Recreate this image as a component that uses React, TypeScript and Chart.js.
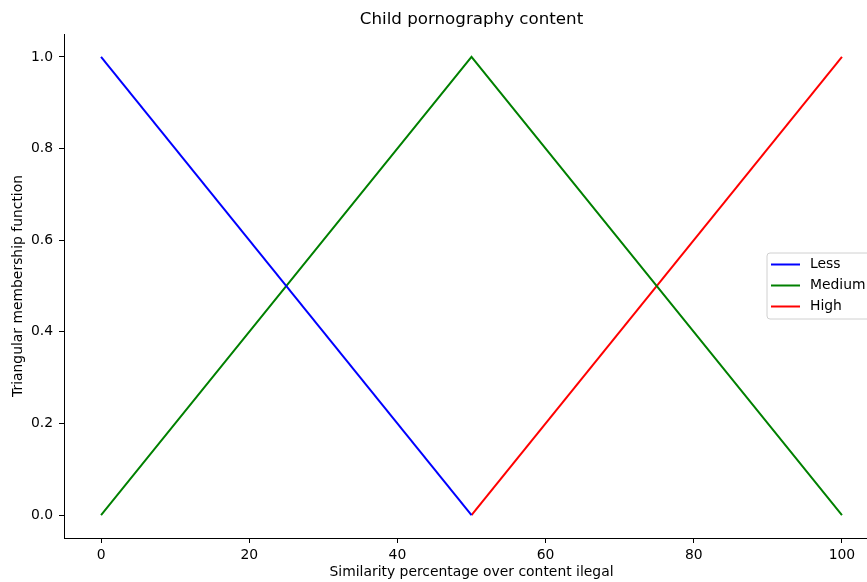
import React, { useEffect, useRef } from "react";
import { Chart, registerables } from "chart.js";

Chart.register(...registerables);

const TITLE = "Child pornography content";
const X_LABEL = "Similarity percentage over content ilegal";
const Y_LABEL = "Triangular membership function";

const LESS_X = [0, 50];
const LESS_Y = [1, 0];
const MEDIUM_X = [0, 50, 100];
const MEDIUM_Y = [0, 1, 0];
const HIGH_X = [50, 100];
const HIGH_Y = [0, 1];

const X_TICKS = [0, 20, 40, 60, 80, 100];
const Y_TICKS = [0, 0.2, 0.4, 0.6, 0.8, 1.0];

const FONT = "'DejaVu Sans', sans-serif";
const FS = 13.9;

const toPoints = (xs: number[], ys: number[]) => xs.map((x, i) => ({ x, y: ys[i] }));

const titlePlugin = {
  id: "mplTitle",
  afterDraw(chart: any) {
    const ctx = chart.ctx;
    const a = chart.chartArea;
    ctx.save();
    ctx.font = `16.7px ${FONT}`;
    ctx.fillStyle = "#000";
    ctx.textAlign = "center";
    ctx.textBaseline = "middle";
    ctx.fillText(TITLE, (a.left + a.right) / 2, 20);
    ctx.restore();
  },
};

const legendPlugin = {
  id: "mplLegend",
  afterDraw(chart: any) {
    const ctx = chart.ctx;
    const datasets = chart.data.datasets;
    const x0 = 767;
    const y0 = 253;
    const w = 112;
    const rowH = 21;
    const h = 66;
    ctx.save();
    ctx.beginPath();
    const r = 3;
    ctx.moveTo(x0 + r, y0);
    ctx.lineTo(x0 + w - r, y0);
    ctx.arcTo(x0 + w, y0, x0 + w, y0 + r, r);
    ctx.lineTo(x0 + w, y0 + h - r);
    ctx.arcTo(x0 + w, y0 + h, x0 + w - r, y0 + h, r);
    ctx.lineTo(x0 + r, y0 + h);
    ctx.arcTo(x0, y0 + h, x0, y0 + h - r, r);
    ctx.lineTo(x0, y0 + r);
    ctx.arcTo(x0, y0, x0 + r, y0, r);
    ctx.closePath();
    ctx.fillStyle = "rgba(255,255,255,0.8)";
    ctx.fill();
    ctx.strokeStyle = "#d0d0d0";
    ctx.lineWidth = 1;
    ctx.stroke();
    ctx.font = `${FS}px ${FONT}`;
    ctx.textBaseline = "middle";
    ctx.textAlign = "left";
    datasets.forEach((ds: any, i: number) => {
      const cy = y0 + 11.5 + i * rowH;
      ctx.beginPath();
      ctx.moveTo(x0 + 4, cy);
      ctx.lineTo(x0 + 33, cy);
      ctx.strokeStyle = ds.borderColor;
      ctx.lineWidth = 2;
      ctx.stroke();
      ctx.fillStyle = "#000";
      ctx.fillText(ds.label, x0 + 43, cy);
    });
    ctx.restore();
  },
};

export default function App() {
  const ref = useRef<HTMLCanvasElement | null>(null);
  useEffect(() => {
    if (!ref.current) return;
    const chart = new Chart(ref.current, {
      type: "line",
      data: {
        datasets: [
          { label: "Less", data: toPoints(LESS_X, LESS_Y), borderColor: "#0000ff", borderWidth: 2, pointRadius: 0, fill: false, tension: 0 },
          { label: "Medium", data: toPoints(MEDIUM_X, MEDIUM_Y), borderColor: "#008000", borderWidth: 2, pointRadius: 0, fill: false, tension: 0 },
          { label: "High", data: toPoints(HIGH_X, HIGH_Y), borderColor: "#ff0000", borderWidth: 2, pointRadius: 0, fill: false, tension: 0 },
        ],
      },
      options: {
        responsive: false,
        animation: false,
        layout: { padding: { top: 34, right: 21, bottom: 0, left: 0 } },
        plugins: {
          legend: { display: false },
          tooltip: { enabled: false },
          title: { display: false },
        },
        scales: {
          x: {
            type: "linear",
            min: -5,
            max: 105,
            afterFit: (s: any) => { s.height = 44; },
            afterBuildTicks: (s: any) => { s.ticks = X_TICKS.map((v) => ({ value: v })); },
            grid: { drawOnChartArea: false, drawTicks: true, tickLength: 5, color: "#000", tickWidth: 1 },
            border: { display: true, color: "#000", width: 1 },
            ticks: { color: "#000", padding: 4, maxRotation: 0, font: { family: FONT, size: FS }, callback: (v: any) => String(v) },
            title: { display: true, text: X_LABEL, color: "#000", font: { family: FONT, size: FS }, padding: { top: 0, bottom: 1 } },
          },
          y: {
            type: "linear",
            min: -0.05,
            max: 1.05,
            afterFit: (s: any) => { s.width = 64; },
            afterBuildTicks: (s: any) => { s.ticks = Y_TICKS.map((v) => ({ value: v })); },
            grid: { drawOnChartArea: false, drawTicks: true, tickLength: 5, color: "#000", tickWidth: 1 },
            border: { display: true, color: "#000", width: 1 },
            ticks: { color: "#000", padding: 6, font: { family: FONT, size: FS }, callback: (v: any) => Number(v).toFixed(1) },
            title: { display: true, text: Y_LABEL, color: "#000", font: { family: FONT, size: FS }, padding: { top: 10, bottom: 0 } },
          },
        },
      },
      plugins: [titlePlugin, legendPlugin],
    } as any);
    return () => chart.destroy();
  }, []);
  return (
    <div style={{ position: "absolute", left: 0, top: 0, width: 867, height: 582, overflow: "hidden", background: "#fff" }}>
      <canvas ref={ref} width={900} height={582} style={{ width: 900, height: 582, display: "block" }} />
    </div>
  );
}
